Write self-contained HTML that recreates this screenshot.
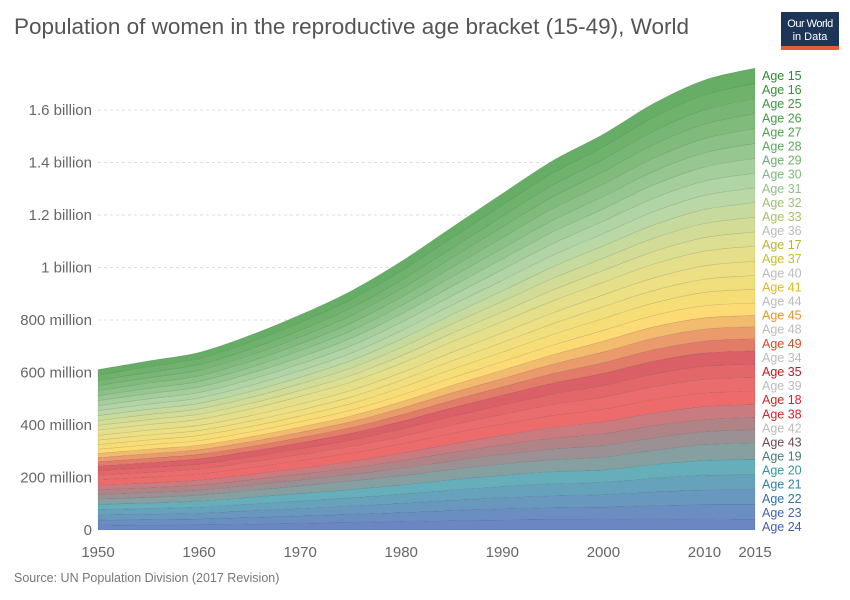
<!DOCTYPE html>
<html><head><meta charset="utf-8"><style>
body{margin:0;background:#fff;font-family:"Liberation Sans",Arial,sans-serif}
</style></head><body>
<svg id="chart" width="850" height="600" xmlns="http://www.w3.org/2000/svg" style="display:block">
<text x="14" y="34" font-size="22.5" fill="#555">Population of women in the reproductive age bracket (15-49), World</text>
<g>
<rect x="781" y="12" width="58" height="35" fill="#1d3557"/>
<rect x="781" y="46" width="58" height="4" fill="#e65b3a"/>
<text x="810" y="27" font-size="11" fill="#fff" text-anchor="middle" letter-spacing="-0.5">Our World</text>
<text x="810" y="40" font-size="11" fill="#fff" text-anchor="middle">in Data</text>
</g>
<g id="grid"></g>
<g id="areas"></g>
<g id="yaxis"></g>
<g id="xaxis"></g>
<g id="legend"></g>
<text x="14" y="582" font-size="12.5" fill="#777">Source: UN Population Division (2017 Revision)</text>
</svg>
<script>
const years = [1950,1955,1960,1965,1970,1975,1980,1985,1990,1995,2000,2005,2010,2015];
const yTicks = [0,200,400,600,800,1000,1200,1400,1600];
const yTickLabels = ["0","200 million","400 million","600 million","800 million","1 billion","1.2 billion","1.4 billion","1.6 billion"];
const xTicks = [1950,1960,1970,1980,1990,2000,2010,2015];
// values in millions, stack order bottom -> top
const age24 = [18.5,19.5,20.5,23.0,26.0,29.0,32.5,36.0,39.0,40.5,41.0,41.5,41.0,40.0];
const age23 = [19.5,20.5,22.0,25.0,28.0,31.0,34.5,38.5,42.0,45.0,47.0,52.0,56.0,57.0];
const age22 = [19.8,20.8,22.3,25.3,28.3,31.3,34.8,38.8,42.3,45.3,47.0,52.0,56.0,57.0];
const age21 = [20.0,21.0,22.5,25.5,28.5,31.5,35.0,39.0,42.5,45.5,47.0,52.0,56.0,57.0];
const age20 = [20.2,21.2,22.7,25.7,28.7,31.7,35.2,39.2,42.7,45.7,47.2,52.2,56.5,57.5];
const age19 = [20.4,21.4,22.9,25.9,28.9,31.9,35.4,39.4,42.9,45.9,48.5,54.0,60.0,64.0];
const age43 = [17.3,18.3,19.0,20.3,22.3,24.8,28.3,32.3,36.3,40.8,45.0,47.5,49.0,50.0];
const age42 = [17.4,18.4,19.1,20.4,22.4,24.9,28.4,32.4,36.4,40.9,45.0,46.5,46.5,46.0];
const age38 = [17.5,18.5,19.2,20.5,22.5,25.0,28.5,32.5,36.5,41.0,45.0,48.0,50.0,50.0];
const age18 = [20.5,21.5,23.0,26.0,29.0,32.0,35.5,39.5,43.0,46.0,48.0,51.5,51.0,50.5];
const age39 = [17.5,18.5,19.2,20.5,22.5,25.0,28.5,32.5,36.5,41.0,45.5,49.0,52.0,53.0];
const age35 = [17.6,18.6,19.3,20.6,22.6,25.1,28.6,32.6,36.6,41.1,45.2,48.5,50.0,50.5];
const age34 = [17.7,18.7,19.4,20.7,22.7,25.2,28.7,32.7,36.7,41.2,45.4,49.0,50.5,50.5];
const age49 = [15.8,16.8,17.3,18.3,19.8,21.8,24.8,28.3,31.8,35.8,40.8,43.5,45.5,46.0];
const age48 = [15.9,16.9,17.4,18.4,19.9,21.9,24.9,28.4,31.9,35.9,40.9,43.8,45.5,46.0];
const age45 = [16.1,17.1,17.6,18.6,20.1,22.1,25.1,28.6,32.1,36.1,41.1,43.0,43.0,42.5];
const age44 = [16.2,17.2,17.7,18.7,20.2,22.2,25.2,28.7,32.2,36.2,41.2,43.7,46.0,47.0];
const age41 = [17.4,18.4,19.1,20.4,22.4,24.9,28.4,32.4,36.4,40.9,45.0,47.6,50.5,52.5];
const age40 = [17.5,18.5,19.2,20.5,22.5,25.0,28.5,32.5,36.5,41.0,45.0,47.6,50.5,53.0];
const age37 = [17.6,18.6,19.3,20.6,22.6,25.1,28.6,32.6,36.6,41.1,45.1,47.8,51.0,54.0];
const age17 = [20.6,21.6,23.1,26.1,29.1,32.1,35.6,39.6,43.1,46.1,47.8,52.5,56.0,57.5];
const age36 = [17.7,18.7,19.4,20.7,22.7,25.2,28.7,32.7,36.7,41.2,45.2,48.0,51.5,54.5];
const age33 = [18.6,19.6,20.6,22.6,25.1,28.1,31.6,35.6,40.1,44.1,46.8,50.6,53.6,55.6];
const age32 = [18.7,19.7,20.7,22.7,25.2,28.2,31.7,35.7,40.2,44.2,46.9,50.7,53.7,55.8];
const age31 = [18.8,19.8,20.8,22.8,25.3,28.3,31.8,35.8,40.3,44.3,47.0,50.8,53.8,56.0];
const age30 = [18.9,19.9,20.9,22.9,25.4,28.4,31.9,35.9,40.4,44.4,47.0,51.0,54.0,56.2];
const age29 = [19.0,20.0,21.0,23.0,25.5,28.5,32.0,36.0,40.5,44.5,47.0,51.0,54.0,56.4];
const age28 = [19.1,20.1,21.1,23.1,25.6,28.6,32.1,36.1,40.6,44.6,47.1,51.1,54.2,56.6];
const age27 = [19.2,20.2,21.2,23.2,25.7,28.7,32.2,36.2,40.7,44.7,47.2,51.2,54.4,56.8];
const age26 = [19.3,20.3,21.3,23.3,25.8,28.8,32.3,36.3,40.8,44.8,47.3,51.3,54.6,57.0];
const age25 = [19.4,20.4,21.4,23.4,25.9,28.9,32.4,36.4,40.9,44.9,47.4,51.4,54.8,57.2];
const age16 = [20.7,21.7,23.2,26.2,29.2,32.2,35.7,39.7,43.2,46.2,47.8,52.6,56.4,58.0];
const age15 = [20.8,21.8,23.3,26.3,29.3,32.3,35.8,39.8,43.3,46.3,47.9,52.8,56.6,58.5];

const series = [
 ["Age 24",age24,"#6b86c2","#3f5fa8"],["Age 23",age23,"#6a8ec1","#3f66a8"],["Age 22",age22,"#6998bf","#2f6fa6"],
 ["Age 21",age21,"#67a2bd","#2f82a0"],["Age 20",age20,"#65aeba","#2c9a9c"],["Age 19",age19,"#869fa1","#4f7778"],
 ["Age 43",age43,"#9b9093","#6c4a4c"],["Age 42",age42,"#b08487","#bbbbbb"],["Age 38",age38,"#ca7b80","#d9232b"],
 ["Age 18",age18,"#ee6b6b","#d9232b"],["Age 39",age39,"#ea6c6c","#bbbbbb"],["Age 35",age35,"#e36668","#c4181e"],
 ["Age 34",age34,"#da5f66","#bbbbbb"],["Age 49",age49,"#e27b68","#d54a2a"],["Age 48",age48,"#eb9b6b","#bbbbbb"],
 ["Age 45",age45,"#f3bb6e","#e8922a"],["Age 44",age44,"#fddb74","#bbbbbb"],["Age 41",age41,"#f7dd76","#e2b81f"],
 ["Age 40",age40,"#f1de7c","#bbbbbb"],["Age 37",age37,"#ecdf84","#c9bb2e"],["Age 17",age17,"#e5df8a","#b5b52e"],
 ["Age 36",age36,"#dcdf91","#bbbbbb"],["Age 33",age33,"#d2dc97","#a8c060"],["Age 32",age32,"#c7da9d","#9cc070"],
 ["Age 31",age31,"#bad8a5","#8fc089"],["Age 30",age30,"#b1d4a6","#7eb87c"],["Age 29",age29,"#a4ce9c","#6cb06b"],
 ["Age 28",age28,"#97c791","#5ea85e"],["Age 27",age27,"#8bc186","#4ea24f"],["Age 26",age26,"#80bb7c","#459c47"],
 ["Age 25",age25,"#77b674","#3d973f"],["Age 16",age16,"#6eb26c","#348f37"],["Age 15",age15,"#66ad66","#2f8a33"]
];
const NS="http://www.w3.org/2000/svg";
const x0=98,x1=755,yBase=530,yPer=420/1600;
const xs=v=>x0+(v-1950)/(2015-1950)*(x1-x0);
const ys=v=>yBase-v*yPer;
function mk(t,attrs,parent){const e=document.createElementNS(NS,t);for(const k in attrs)e.setAttribute(k,attrs[k]);parent.appendChild(e);return e;}
function curve(pts){ // Catmull-Rom to cubic bezier, pts continues from current point pts[0]
  let d='';
  for(let i=0;i<pts.length-1;i++){
    const p0=pts[Math.max(i-1,0)],p1=pts[i],p2=pts[i+1],p3=pts[Math.min(i+2,pts.length-1)];
    const c1=[p1[0]+(p2[0]-p0[0])/6,p1[1]+(p2[1]-p0[1])/6];
    const c2=[p2[0]-(p3[0]-p1[0])/6,p2[1]-(p3[1]-p1[1])/6];
    d+='C'+c1[0].toFixed(1)+','+c1[1].toFixed(1)+' '+c2[0].toFixed(1)+','+c2[1].toFixed(1)+' '+p2[0].toFixed(1)+','+p2[1].toFixed(1);
  }
  return d;
}
const grid=document.getElementById('grid'),yax=document.getElementById('yaxis'),xax=document.getElementById('xaxis');
yTicks.forEach((t,i)=>{
  if(t>0){const l=mk('line',{x1:x0,x2:x1,y1:ys(t),y2:ys(t),stroke:'#ddd','stroke-dasharray':'3,3'},grid);
  
  }
  const tx=mk('text',{x:92,y:ys(t)+5,'font-size':15,fill:'#666','text-anchor':'end'},yax);
  tx.textContent=yTickLabels[i];
  
  
});
xTicks.forEach(t=>{
  const tx=mk('text',{x:xs(t),y:557,'font-size':15,fill:'#666','text-anchor':'middle'},xax);
  tx.textContent=t;
  
  
});
const areas=document.getElementById('areas');
let cum=years.map(()=>0);
series.forEach(s=>{
  const lo=cum.slice(),hi=cum.map((c,i)=>c+s[1][i]);
  const top=years.map((y,i)=>[xs(y),ys(hi[i])]);
  const bot=years.map((y,i)=>[xs(y),ys(lo[i])]).reverse();
  let d='M'+top[0][0]+','+top[0][1]+curve(top)+'L'+bot[0][0]+','+bot[0][1]+curve(bot)+'Z';
  const p=mk('path',{d:d,fill:s[2],stroke:'rgba(0,0,0,0.12)','stroke-width':0.6},areas);
  
  
  cum=hi;
});
const leg=document.getElementById('legend');
const n=series.length;
series.forEach((s,i)=>{
  const tx=mk('text',{x:762,y:531-(i)*(451/(n-1)),'font-size':12.5,fill:s[3]},leg);
  tx.textContent=s[0];
  
  
});
</script>
</body></html>
